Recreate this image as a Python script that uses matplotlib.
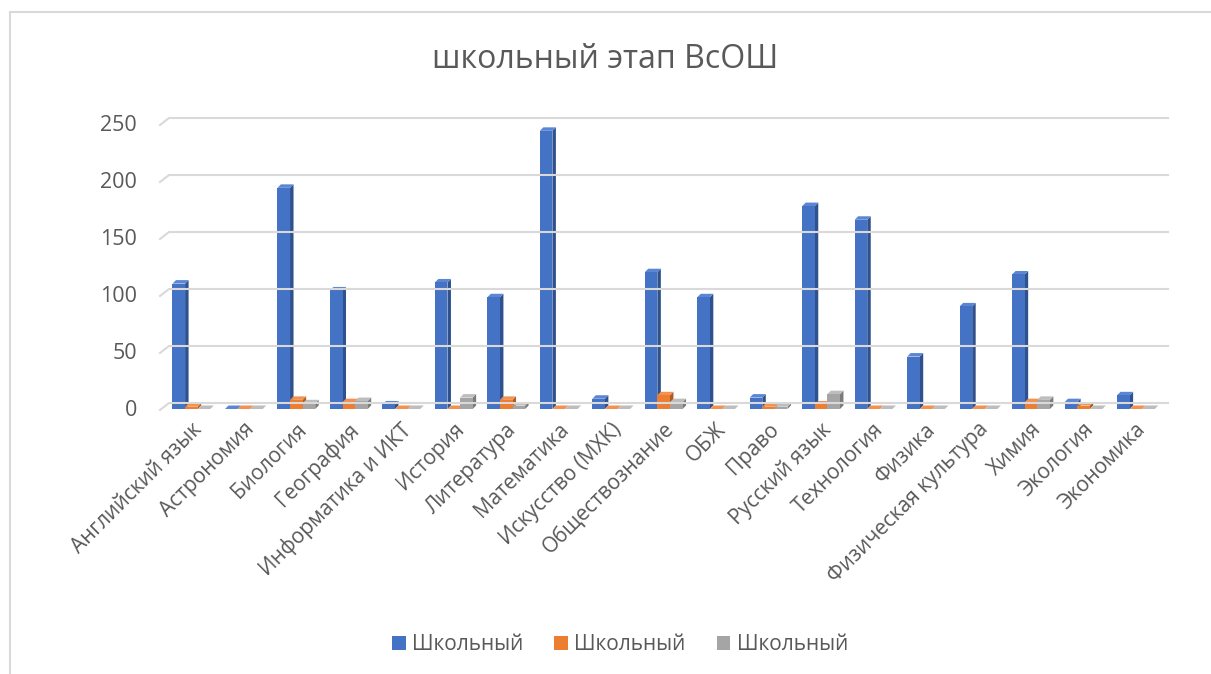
import numpy as np
import matplotlib.pyplot as plt
from matplotlib.patches import Polygon, Rectangle, Patch

plt.rcParams['font.family'] = ['Open Sans', 'DejaVu Sans']

categories = ["Английский язык", "Астрономия", "Биология", "География",
              "Информатика и ИКТ", "История", "Литература", "Математика",
              "Искусство (МХК)", "Обществознание", "ОБЖ", "Право",
              "Русский язык", "Технология", "Физика", "Физическая культура",
              "Химия", "Экология", "Экономика"]
series_names = ["Школьный", "Школьный", "Школьный"]
blue_vals = [110, 0, 194, 104, 4, 111, 98, 244, 9, 120, 98, 10, 178, 166, 46, 90, 118, 6, 12]
orange_vals = [2, 0, 8, 6, 0, 0, 8, 0, 0, 12, 0, 2, 4, 0, 0, 0, 6, 3, 0]
gray_vals = [0, 0, 5, 7, 0, 10, 3, 0, 0, 6, 0, 2, 13, 0, 0, 0, 8, 0, 0]
yticks = [0, 50, 100, 150, 200, 250]

front = ['#4472C4', '#ED7D31', '#A5A5A5']
side = ['#2F528F', '#AE5A21', '#7B7B7B']
top = ['#5B86D6', '#F39150', '#BDBDBD']
text_col = '#595959'
grid_col = '#D9D9D9'

W, H = 1211, 674
fig = plt.figure(figsize=(W / 100, H / 100), dpi=100)
ax = fig.add_axes([162 / W, 1 - 409 / H, (1159 - 162) / W, (409 - 124) / H])
ax.set_xlim(-0.5, len(categories) - 0.5)
ax.set_ylim(0, 250)
ax.axis('off')

# chart border
fig.patches.append(Rectangle((10 / W, -0.01), 1.2, 1 - 12 / H + 0.01, transform=fig.transFigure,
                             fill=False, edgecolor=grid_col, linewidth=1.5))

fig.text(0.5, 1 - 60 / H, "школьный этап ВсОШ", ha='center', va='center',
         fontsize=23, color=text_col)

# back wall gridlines with small perspective kink
wall_dx, wall_dy = 9, 7
inv = fig.transFigure.inverted()
x0_disp = ax.transData.transform((-0.5, 0))[0]
x1_disp = ax.transData.transform((len(categories) - 0.5, 0))[0]
for t in yticks:
    y_disp = ax.transData.transform((0, t))[1]
    pts = [(x0_disp - 2, y_disp - 1), (x0_disp - 2 + wall_dx, y_disp + wall_dy - 1),
           (x1_disp + wall_dx, y_disp + wall_dy - 1)]
    xs, ys = zip(*[inv.transform(p) for p in pts])
    fig.add_artist(plt.Line2D(xs, ys, color=grid_col, linewidth=1.5, transform=fig.transFigure))
    fig.text((x0_disp - 25) / W, y_disp / H - 0.002, str(t), ha='right', va='center',
             fontsize=15.5, color=text_col)

# 3D-looking bars
bw = 0.24
depth_x, depth_y = 3.5, 3.5
for s, vals in enumerate([blue_vals, orange_vals, gray_vals]):
    for i, v in enumerate(vals):
        left = i - 0.3 + s * bw
        (xl, yb) = ax.transData.transform((left, 0))
        (xr, yt) = ax.transData.transform((left + bw, v))
        face = [(xl, yb), (xr, yb), (xr, yt), (xl, yt)]
        sidep = [(xr, yb), (xr + depth_x, yb + depth_y), (xr + depth_x, yt + depth_y), (xr, yt)]
        topp = [(xl, yt), (xr, yt), (xr + depth_x, yt + depth_y), (xl + depth_x, yt + depth_y)]
        for poly, col in [(sidep, side[s]), (topp, top[s]), (face, front[s])]:
            fig.add_artist(Polygon([inv.transform(p) for p in poly], closed=True,
                                   facecolor=col, edgecolor='none', transform=fig.transFigure))

# category labels
for i, c in enumerate(categories):
    xd, yd = ax.transData.transform((i + 0.05, 0))
    fig.text(xd / W, (yd - 10) / H, c, rotation=45, ha='right', va='top',
             rotation_mode='anchor', fontsize=15, color=text_col)

handles = [Patch(facecolor=front[k], edgecolor='none') for k in range(3)]
fig.legend(handles, series_names, loc='center', bbox_to_anchor=(0.512, 1 - 645 / H), ncol=3,
           frameon=False, fontsize=15, labelcolor=text_col, handlelength=0.65, handleheight=0.65,
           handletextpad=0.3, columnspacing=1.5)

fig.savefig('out.png', dpi=100)
